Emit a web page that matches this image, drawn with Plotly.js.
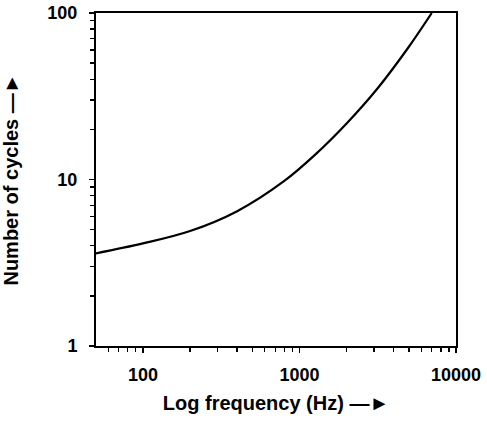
<!DOCTYPE html>
<html>
<head>
<meta charset="utf-8">
<script src="https://cdn.plot.ly/plotly-3.0.1.min.js"></script>
<style>
  html, body { margin: 0; padding: 0; background: #fff; }
  #plot { width: 487px; height: 424px; }
</style>
</head>
<body>
<div id="plot"></div>
<script>
// values (log-log)
var freq = [50, 100, 200, 400, 800, 1250, 2000, 3150, 5000, 7000];
var cycles = [3.6, 4.13, 4.9, 6.45, 9.8, 14, 21.7, 35.2, 62.7, 100];

var xTicks = [100, 1000, 10000];
var yTicks = [1, 10, 100];

var trace1 = {
  x: freq,
  y: cycles,
  type: "scatter",
  mode: "lines",
  line: { color: "black", width: 2.2, shape: "spline", smoothing: 1 },
  hoverinfo: "skip"
};

var data = [trace1];

var tickFont = { family: "Liberation Sans, Arial, sans-serif", size: 18, color: "black", weight: "bold" };
var titleFont = { family: "Liberation Sans, Arial, sans-serif", size: 20, color: "black", weight: "bold" };

var layout = {
  width: 487,
  height: 424,
  margin: { l: 96, r: 31, t: 13, b: 78 },
  paper_bgcolor: "white",
  plot_bgcolor: "white",
  showlegend: false,
  xaxis: {
    type: "log",
    range: [1.7, 4],
    tickvals: xTicks,
    ticktext: xTicks.map(String),
    ticks: "outside",
    ticklen: 5,
    tickwidth: 1.5,
    tickcolor: "black",
    minor: { ticks: "outside", ticklen: 4, tickwidth: 1.4, tickcolor: "black", dtick: "D1" },
    showline: true,
    linecolor: "black",
    linewidth: 2,
    mirror: true,
    showgrid: false,
    zeroline: false,
    tickfont: tickFont,
    ticklabelstandoff: 6,
    title: { text: "Log frequency (Hz) \u2014\u25BA", font: titleFont, standoff: 12 }
  },
  yaxis: {
    type: "log",
    range: [0, 2],
    tickvals: yTicks,
    ticktext: yTicks.map(String),
    ticks: "outside",
    ticklen: 5,
    tickwidth: 1.5,
    tickcolor: "black",
    minor: { ticks: "outside", ticklen: 4, tickwidth: 1.4, tickcolor: "black", dtick: "D1" },
    showline: true,
    linecolor: "black",
    linewidth: 2,
    mirror: true,
    showgrid: false,
    zeroline: false,
    tickfont: tickFont,
    ticklabelstandoff: 8,
    title: { text: "Number of cycles \u2014\u25BA", font: titleFont, standoff: 24 }
  }
};

Plotly.newPlot("plot", data, layout, { displayModeBar: false, staticPlot: true });
</script>
</body>
</html>
